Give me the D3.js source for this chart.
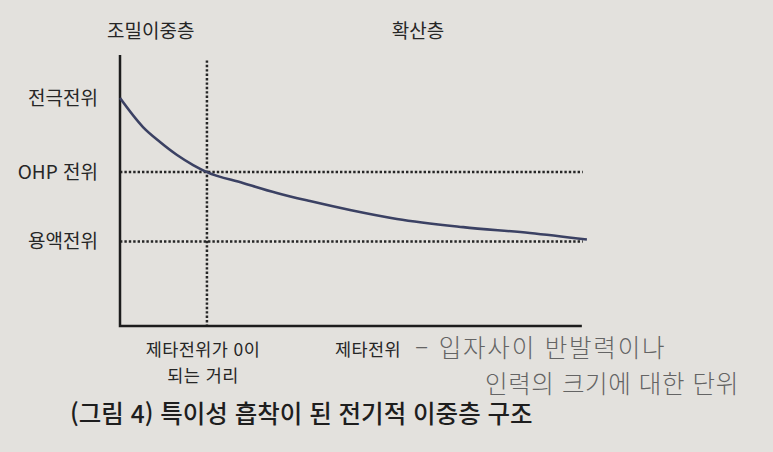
<!DOCTYPE html>
<html lang="ko">
<head>
<meta charset="UTF-8">
<title>특이성 흡착이 된 전기적 이중층 구조</title>
<style>
  body { margin: 0; background: #e3e1dd; }
  svg { display: block; font-family: "Noto Sans CJK KR", "Noto Sans", sans-serif; }
</style>
</head>
<body>
<svg id="chart" width="773" height="452"></svg>
<script src="https://cdn.jsdelivr.net/npm/d3@7"></script>
<script>
// potential vs distance (arbitrary units 0..100)
var curveDist = [0, 5.0, 8.7, 12.4, 15.9, 18.9, 26.7, 34.1, 41.3, 50, 60.2, 74.6, 89.1, 101.5];
var curvePot  = [84.1, 73.4, 67.9, 63.1, 59.4, 56.8, 52.8, 49.1, 46.1, 42.8, 39.5, 36.5, 34.3, 31.9];

var levelNames  = ["전극전위", "OHP 전위", "용액전위"];
var levelValues = [84.1, 56.8, 31.2];
var ohpDist = 18.9;

var layerNames = ["조밀이중층", "확산층"];
var layerDist  = [6.7, 64.8];

var svg = d3.select("#chart");
var x = d3.scaleLinear().domain([0, 100]).range([120, 580]);
var y = d3.scaleLinear().domain([0, 100]).range([326, 55]);
var ink = "#262626";

// dotted guide lines (OHP, solution)
svg.selectAll("line.lvl")
  .data(levelValues.slice(1))
  .enter().append("line")
  .attr("x1", x(0)).attr("x2", x(100.6))
  .attr("y1", d => y(d)).attr("y2", d => y(d))
  .attr("stroke", ink).attr("stroke-width", 2.5)
  .attr("stroke-dasharray", "2.4,2");

svg.append("line")
  .attr("x1", x(ohpDist)).attr("x2", x(ohpDist))
  .attr("y1", y(98)).attr("y2", y(0))
  .attr("stroke", ink).attr("stroke-width", 2.5)
  .attr("stroke-dasharray", "2.4,2");

// axes (no ticks)
svg.append("path")
  .attr("d", "M" + x(0) + "," + y(100) + "V" + y(0) + "H" + x(100.4))
  .attr("fill", "none").attr("stroke", "#1c1c1c").attr("stroke-width", 2.5);

// potential curve
var pts = curveDist.map((d, i) => [d, curvePot[i]]);
svg.append("path")
  .datum(pts)
  .attr("d", d3.line().x(d => x(d[0])).y(d => y(d[1])).curve(d3.curveMonotoneX))
  .attr("fill", "none").attr("stroke", "#3b4163").attr("stroke-width", 2.6);

// level labels
svg.selectAll("text.lvl")
  .data(levelNames)
  .enter().append("text")
  .attr("x", 98).attr("y", (d, i) => y(levelValues[i]) + 7)
  .attr("text-anchor", "end")
  .attr("font-size", 19).attr("fill", ink)
  .text(d => d);

// layer names on top
svg.selectAll("text.layer")
  .data(layerNames)
  .enter().append("text")
  .attr("x", (d, i) => x(layerDist[i]))
  .attr("y", 38)
  .attr("text-anchor", "middle")
  .attr("font-size", 19).attr("fill", ink)
  .text(d => d);

// bottom labels
var bottom = svg.append("g").attr("font-size", 17.5).attr("fill", ink)
  .attr("letter-spacing", 0.4);
bottom.append("text").attr("x", 203).attr("y", 356)
  .attr("text-anchor", "middle").text("제타전위가 0이");
bottom.append("text").attr("x", 203).attr("y", 382)
  .attr("text-anchor", "middle").text("되는 거리");
bottom.append("text").attr("x", 335).attr("y", 356).text("제타전위");

// handwritten note
var note = svg.append("g").attr("fill", "#646464").attr("font-size", 24.5)
  .attr("font-weight", 300);
note.append("text").attr("x", 415).attr("y", 357).attr("letter-spacing", 1.8)
  .text("– 입자사이 반발력이나");
note.append("text").attr("x", 485).attr("y", 393).attr("letter-spacing", 0.6)
  .text("인력의 크기에 대한 단위");

// caption
svg.append("text")
  .attr("x", 70).attr("y", 423)
  .attr("font-size", 24.5).attr("font-weight", 500).attr("fill", "#1e1e1e")
  .text("(그림 4) 특이성 흡착이 된 전기적 이중층 구조");
</script>
</body>
</html>
